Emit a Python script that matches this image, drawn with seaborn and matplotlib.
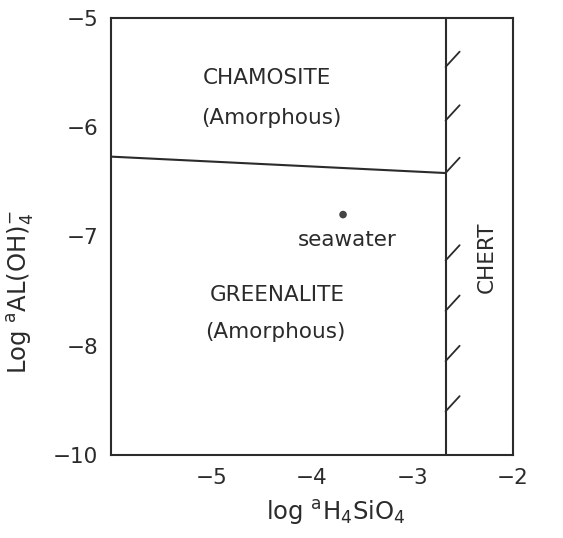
import numpy as np
import pandas as pd
import seaborn as sns
import matplotlib.pyplot as plt

# phase boundary chamosite / greenalite
boundary_x = [-6.0, -2.67]
boundary_y = [-6.27, -6.42]
# chert saturation line
chert_x = -2.67
# hatch marks on the chert line (start y)
hatch_y = [-5.45, -5.94, -6.42, -7.22, -7.68, -8.14, -8.60]
hatch_dx = 0.14
hatch_dy = 0.14
# seawater point
sea_x = [-3.69]
sea_y = [-6.80]

xticks = [-5, -4, -3, -2]
yticks = [-5, -6, -7, -8, -9]
ytick_labels = ['\u22125', '\u22126', '\u22127', '\u22128', '\u221210']

ink = '#2b2b2b'

sns.set_style('white')
plt.rcParams['font.family'] = ['DejaVu Sans']
plt.rcParams['mathtext.fontset'] = 'dejavusans'

fig = plt.figure(figsize=(5.63, 5.38), dpi=100)
ax = fig.add_axes([0.197, 0.154, 0.714, 0.813])

df = pd.DataFrame({'x': boundary_x, 'y': boundary_y})
sns.lineplot(data=df, x='x', y='y', color=ink, lw=1.5, ax=ax)
ax.axvline(chert_x, color=ink, lw=1.5)
for hy in hatch_y:
    ax.plot([chert_x, chert_x + hatch_dx], [hy, hy + hatch_dy], color=ink, lw=1.3)

sns.scatterplot(x=sea_x, y=sea_y, color='#444444', s=30, edgecolor='none', ax=ax)

tk = dict(color=ink, fontsize=15.5, ha='center', va='center')
ax.text(-4.45, -5.55, 'CHAMOSITE', **tk)
ax.text(-4.40, -5.92, '(Amorphous)', **tk)
ax.text(-4.34, -7.54, 'GREENALITE', **tk)
ax.text(-4.36, -7.87, '(Amorphous)', **tk)
ax.text(-3.65, -7.03, 'seawater', **tk)
ax.text(-2.26, -7.19, 'CHERT', rotation=90, **tk)

ax.set_xlim(-6, -2)
ax.set_ylim(-9, -5)
ax.set_xticks(xticks)
ax.set_xticklabels(['\u2212%d' % abs(t) for t in xticks])
ax.set_yticks(yticks)
ax.set_yticklabels(ytick_labels)
ax.tick_params(direction='in', length=8, width=1.3, colors=ink,
               labelsize=15.5, pad=9)

for s in ax.spines.values():
    s.set_color(ink)
    s.set_linewidth(1.5)

ax.set_xlabel(r'log $^{\mathsf{a}}\mathsf{H_4SiO_4}$', fontsize=17.5,
              color=ink, va='center')
ax.set_ylabel(r'Log $^{\mathsf{a}}\mathsf{AL(OH)}_4^{-}$', fontsize=17.5,
              color=ink, va='center')
ax.xaxis.set_label_coords(0.56, -0.13)
ax.yaxis.set_label_coords(-0.226, 0.373)

fig.savefig('out.png', dpi=100, facecolor='white')
